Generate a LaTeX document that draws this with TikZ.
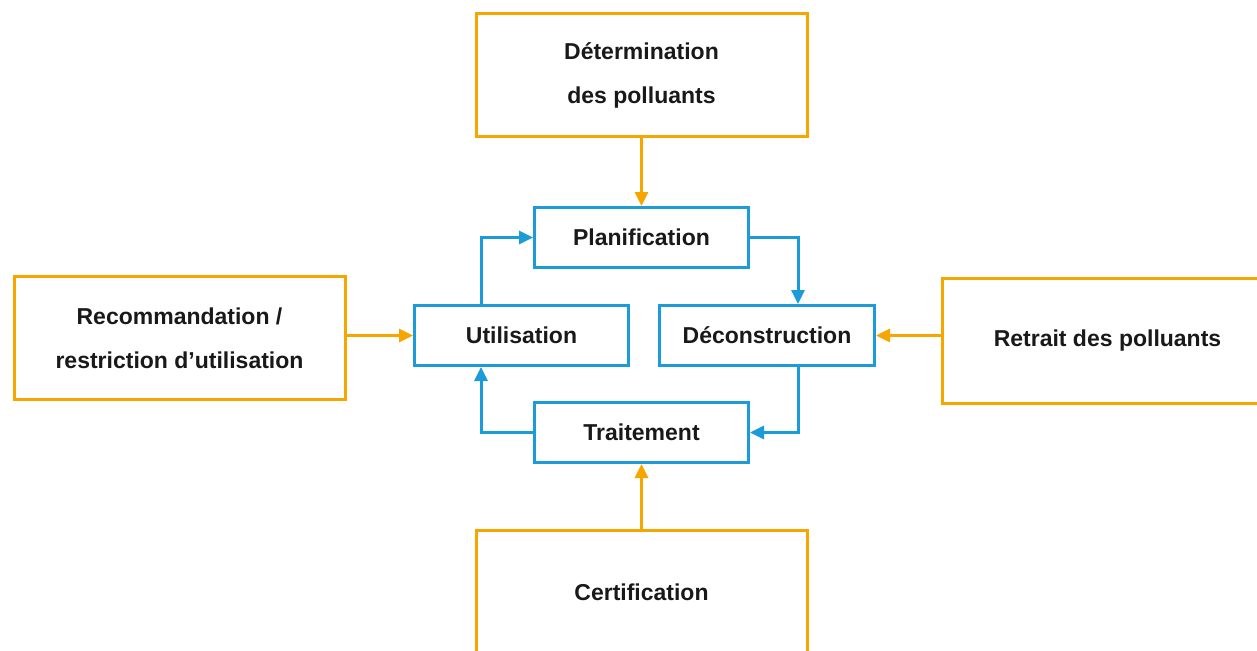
\documentclass[tikz,border=0pt]{standalone}
\usepackage{fontspec}
\setmainfont{Liberation Sans}
\usetikzlibrary{arrows.meta}
\definecolor{orng}{HTML}{F7A600}
\definecolor{blu}{HTML}{1B9BD7}
\begin{document}
\begin{tikzpicture}[x=1pt,y=-1pt,
  txt/.style={font=\fontsize{23}{44}\selectfont\bfseries, text=black!90, align=center, inner sep=0pt},
  obox/.style={txt, draw=orng, line width=3pt, rectangle, minimum width=331pt, minimum height=123pt},
  bbox/.style={txt, draw=blu, line width=3pt, rectangle, minimum width=214pt, minimum height=60pt},
  oarr/.style={draw=orng, line width=3pt, -{Triangle[length=14pt,width=13pt]}},
  barr/.style={draw=blu, line width=3pt, -{Triangle[length=14pt,width=13pt]}}]
\useasboundingbox (0,0) rectangle (1257,650);
\clip (0,0) rectangle (1257,650);
\fill[white] (0,0) rectangle (1257,650);
% orange boxes
\node[obox] (det) at (641.5,75) {Détermination\\des polluants};
\node[obox] (rec) at (179.5,338) {Recommandation /\\restriction d’utilisation};
\node[obox, minimum height=125pt] (ret) at (1107.5,340.5) {Retrait des polluants};
\node[obox] (cert) at (641.5,592) {Certification};
% blue boxes
\node[bbox] (plan) at (641.5,237.5) {Planification};
\node[bbox] (util) at (521.5,335.5) {Utilisation};
\node[bbox, minimum width=215pt] (decon) at (767,335.5) {Déconstruction};
\node[bbox] (trait) at (641.5,432.5) {Traitement};
% orange arrows
\draw[oarr] (det.south) -- (plan.north);
\draw[oarr] (cert.north) -- (trait.south);
\draw[oarr] (rec.east |- util.west) -- (util.west);
\draw[oarr] (ret.west |- decon.east) -- (decon.east);
% blue cycle
\draw[barr] ([xshift=68pt]util.north west) |- (plan.west);
\draw[barr] (plan.east) -| ([xshift=140pt]decon.north west);
\draw[barr] ([xshift=140pt]decon.south west) |- (trait.east);
\draw[barr] (trait.west) -| ([xshift=68pt]util.south west);
\end{tikzpicture}
\end{document}
